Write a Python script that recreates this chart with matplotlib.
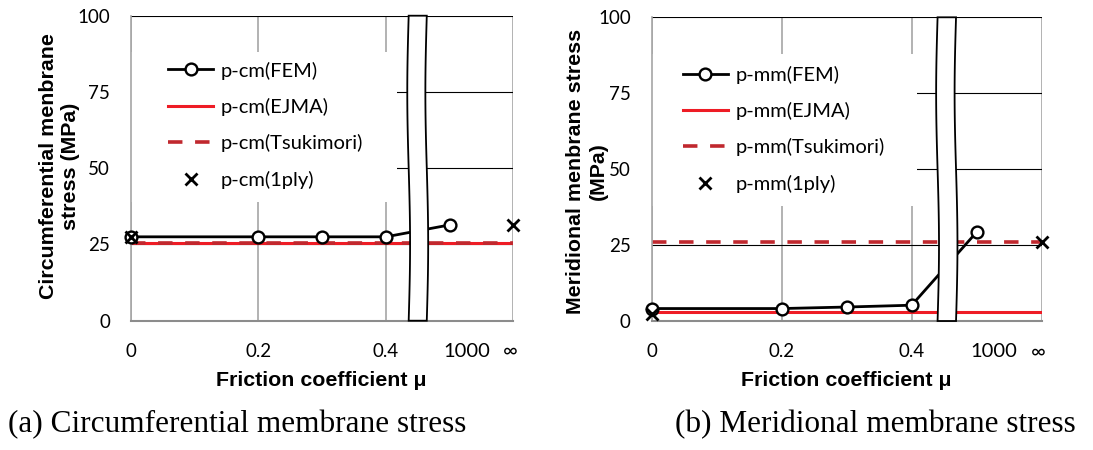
import numpy as np
import matplotlib
matplotlib.use("Agg")
import matplotlib.pyplot as plt
from matplotlib.patches import Rectangle, Polygon
import matplotlib.transforms as mtransforms

# ---------------- data ----------------
MU_FEM = [0, 0.2, 0.3, 0.4, 1000]          # friction coefficients (FEM)
MU_1PLY = [0, np.inf]                       # 1ply results (mu = 0 and infinity)
X_TICKS = [0, 0.2, 0.4, 0.6]
X_TICK_LABELS = ['0', '0.2', '0.4', '']
X_EXTRA_TICKS = [0.527, 0.595]
X_EXTRA_LABELS = ['1000', '\u221e']
Y_TICKS = [0, 25, 50, 75, 100]

cm_fem = [27.5, 27.5, 27.5, 27.5, 31.4]
cm_ejma = 25.4
cm_tsuki = 25.4
cm_1ply = [27.5, 31.4]

mm_fem = [4.1, 4.1, 4.6, 5.2, 29.3]
mm_ejma = 3.0
mm_tsuki = 25.9
mm_1ply = [2.4, 25.9]

BREAK_X = [0.450, 0.454]


def mu_pos(m):
    """Map friction coefficient to broken-axis position."""
    if np.isinf(m):
        return 0.6
    if m > 0.4:
        return 0.5
    return m


RED = '#ee1c25'
DRED = '#c0282e'
GRID_V = '#a6a6a6'

TICK_FONT = ['Lato', 'DejaVu Sans']
LABEL_FONT = ['Liberation Sans', 'DejaVu Sans']
W, H = 1093, 450

fig = plt.figure(figsize=(10.93, 4.5), dpi=100)


def px_ax(x0, x1, ytop, ybot):
    return fig.add_axes([x0 / W, 1 - ybot / H, (x1 - x0) / W, (ybot - ytop) / H])


def draw(ax, prefix, fem, ejma, tsuki, ply, bx, leg_anchor, bg_rect):
    ax.set_xlim(0, 0.6)
    ax.set_ylim(0, 100)
    ax.set_axisbelow(True)
    ax.set_xticks(X_TICKS)
    ax.set_xticklabels(X_TICK_LABELS, fontsize=13.5, family=TICK_FONT)
    ax.set_xticks(X_EXTRA_TICKS, minor=True)
    ax.set_xticklabels(X_EXTRA_LABELS, minor=True, fontsize=14.5, family=TICK_FONT)
    ax.set_yticks(Y_TICKS)
    ax.set_yticklabels([str(v) for v in Y_TICKS], fontsize=13.5, family=TICK_FONT)
    ax.tick_params(axis='both', which='both', length=0)
    ax.tick_params(axis='x', which='major', pad=16)
    ax.tick_params(axis='x', which='minor', pad=16)
    ax.tick_params(axis='y', pad=15)
    ax.xaxis.grid(True, which='major', color=GRID_V, lw=1.2)
    ax.yaxis.grid(True, which='major', color='black', lw=0.8)
    for s in ['top', 'right']:
        ax.spines[s].set_visible(False)
    ax.spines['left'].set_color(GRID_V)
    ax.spines['left'].set_linewidth(1.2)
    ax.spines['bottom'].set_color('#8c8c8c')
    ax.spines['bottom'].set_linewidth(1.5)

    # legend background (hides gridlines like the original)
    ax.add_patch(Rectangle((bg_rect[0], bg_rect[1]), bg_rect[2], bg_rect[3],
                           transform=ax.transAxes, facecolor='white',
                           edgecolor='none', zorder=1))

    xs = [mu_pos(m) for m in MU_FEM]
    ax.axhline(ejma, color=RED, lw=2.2, zorder=2, label=f'p-{prefix}(EJMA)')
    ax.axhline(tsuki, color=DRED, lw=2.6, ls=(0, (4, 3.5)), zorder=2.1,
               label=f'p-{prefix}(Tsukimori)')
    ax.plot(xs, fem, color='black', lw=2.0, marker='o', ms=8.5, mfc='white',
            mec='black', mew=1.7, zorder=3, clip_on=False, label=f'p-{prefix}(FEM)')
    ax.plot([mu_pos(m) for m in MU_1PLY], ply, ls='none', marker='x', ms=9,
            mew=2.0, color='black', zorder=4, clip_on=False,
            label=f'p-{prefix}(1ply)')

    # axis-break symbol
    trans = mtransforms.blended_transform_factory(ax.transData, ax.transAxes)
    yy = np.linspace(0, 1.0, 60)
    hw = 0.0142
    amp = 0.0022
    left = bx - hw + amp * np.sin(2 * np.pi * yy)
    right = bx + hw + amp * np.sin(2 * np.pi * yy)
    pts = np.concatenate([np.column_stack([left, yy]),
                          np.column_stack([right[::-1], yy[::-1]])])
    ax.add_patch(Polygon(pts, closed=True, transform=trans, facecolor='white',
                         edgecolor='black', lw=1.3, zorder=6, clip_on=False))

    handles, labels = ax.get_legend_handles_labels()
    order = [2, 0, 1, 3]
    leg = ax.legend([handles[i] for i in order], [labels[i] for i in order],
                    loc='upper left', bbox_to_anchor=leg_anchor, frameon=False,
                    borderaxespad=0, borderpad=0, handlelength=2.24,
                    handletextpad=0.38, labelspacing=0.91,
                    prop={'family': TICK_FONT, 'size': 14.5})
    leg.set_zorder(7)


axL = px_ax(131, 513.3, 15.7, 320.7)
draw(axL, 'cm', cm_fem, cm_ejma, cm_tsuki, cm_1ply, BREAK_X[0],
     (0.0968, 0.850), (0.0, 0.390, 0.696, 0.492))
axR = px_ax(651.7, 1041.7, 17.3, 321)
draw(axR, 'mm', mm_fem, mm_ejma, mm_tsuki, mm_1ply, BREAK_X[1],
     (0.080, 0.841), (0.0, 0.378, 0.680, 0.500))

fig.text(59.5 / W, 1 - 166 / H, 'Circumferential menbrane\nstress (MPa)',
         rotation=90, ha='center', va='center', multialignment='center',
         fontsize=15.4, fontweight='bold', family=LABEL_FONT, linespacing=1.25)
fig.text(587 / W, 1 - 171 / H, 'Meridional menbrane stress\n(MPa)',
         rotation=90, ha='center', va='center', multialignment='center',
         fontsize=15.4, fontweight='bold', family=LABEL_FONT, linespacing=1.25)
fig.text(321.5 / W, 1 - 380 / H, 'Friction coefficient \u03bc', ha='center',
         va='center', fontsize=15.4, fontweight='bold', family=LABEL_FONT)
fig.text(846 / W, 1 - 380 / H, 'Friction coefficient \u03bc', ha='center',
         va='center', fontsize=15.4, fontweight='bold', family=LABEL_FONT)

fig.text(8 / W, 1 - 425 / H, '(a) Circumferential membrane stress', ha='left',
         va='center', fontsize=22.5, family='Liberation Serif')
fig.text(675 / W, 1 - 425 / H, '(b) Meridional membrane stress', ha='left',
         va='center', fontsize=22.5, family='Liberation Serif')

fig.savefig('out.png', dpi=100)
